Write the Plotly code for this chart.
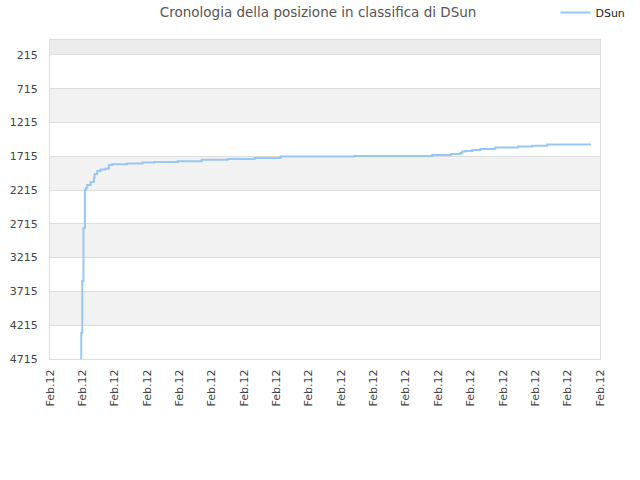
import plotly.graph_objects as go

# x positions in tick units (each tick labelled "Feb.12"), rank values
x_pos = [0.966, 0.997, 1.034, 1.080, 1.080, 1.111, 1.151,
         1.256, 1.358, 1.379, 1.459, 1.564, 1.719, 1.820, 1.922, 2.376, 2.860,
         3.209, 3.949, 4.681, 4.690, 5.492, 6.325, 7.128, 9.411, 11.817, 12.404,
         12.681, 12.743, 12.836, 13.052, 13.299, 13.761, 14.471, 14.903, 15.366,
         16.137, 16.723]
rank = [4715, 4330, 3560, 2776, 2361, 2213, 2184,
        2139, 2095, 2036, 1977, 1932, 1910, 1895, 1843, 1833, 1824,
        1809, 1799, 1788, 1780, 1765, 1754, 1740, 1720, 1710, 1695,
        1680, 1666, 1646, 1636, 1621, 1606, 1587, 1572, 1558,
        1543, 1543]

tick_x = list(range(18))
tick_x_labels = ["Feb.12"] * 18
tick_y = [215, 715, 1215, 1715, 2215, 2715, 3215, 3715, 4215, 4715]
y_top, y_bottom = -5, 4715

fig = go.Figure()
fig.add_trace(go.Scatter(x=x_pos, y=rank, mode="lines", name="DSun",
                         line=dict(color="#99c7f4", width=2, shape="vh")))

shapes = []
bounds = [y_top] + tick_y
for i in range(len(bounds) - 1):
    if i % 2 == 0:
        col = "#ececec" if i == 0 else "#f2f2f2"
        shapes.append(dict(type="rect", xref="paper", yref="y", x0=0, x1=1,
                           y0=bounds[i], y1=bounds[i + 1], fillcolor=col,
                           line=dict(width=0), layer="below"))

fig.update_layout(
    width=640, height=480,
    margin=dict(l=50, r=40, t=40, b=121, autoexpand=False),
    paper_bgcolor="white", plot_bgcolor="white",
    font=dict(family="DejaVu Sans", color="#444", size=11),
    title=dict(text="Cronologia della posizione in classifica di DSun",
               x=0.497, xanchor="center", y=0.975, yanchor="middle",
               font=dict(size=13.5, color="#555")),
    showlegend=True,
    legend=dict(x=0.919, xanchor="left", y=1.132, yanchor="top",
                font=dict(size=11, color="#222"), bgcolor="rgba(0,0,0,0)"),
    shapes=shapes,
    xaxis=dict(range=[0, 17], tickmode="array", tickvals=tick_x,
               ticktext=tick_x_labels, tickangle=-90, showgrid=False,
               showline=True, linecolor="#dddddd", mirror=True,
               ticks="", ticklabelstandoff=5, automargin=False,
               zeroline=False, tickfont=dict(size=11, color="#444")),
    yaxis=dict(range=[y_bottom, y_top], tickmode="array", tickvals=tick_y,
               showgrid=True, gridcolor="#dddddd", gridwidth=1,
               showline=True, linecolor="#dddddd", mirror=True,
               zeroline=False, ticks="", ticklabelstandoff=9, automargin=False,
               tickfont=dict(size=11, color="#444")),
)

fig.write_html("out.html", config={"displayModeBar": False},
               post_script="document.body.style.margin='0';")
